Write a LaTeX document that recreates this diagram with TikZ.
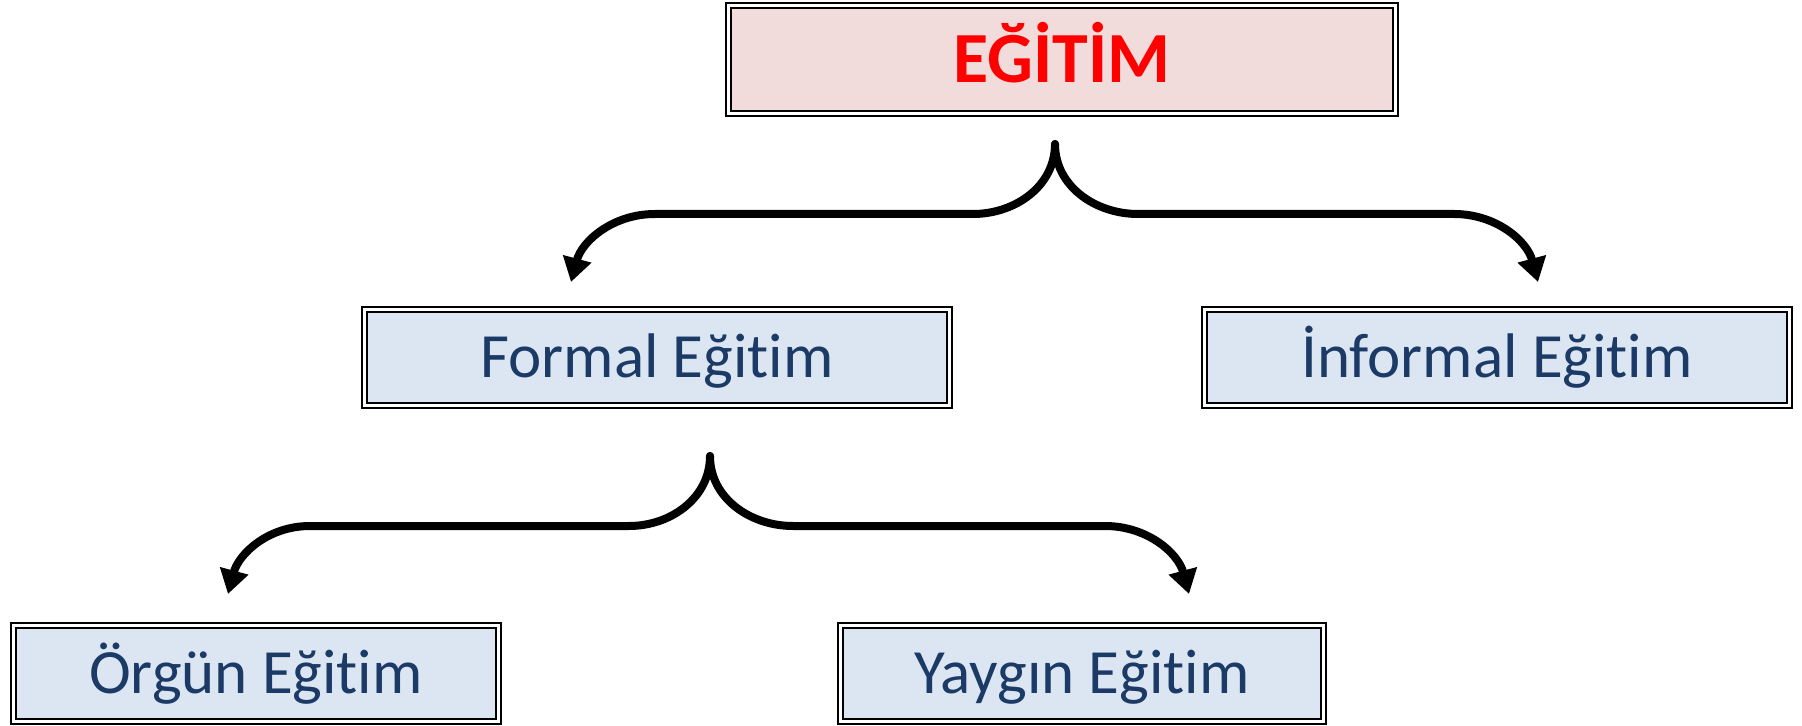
\documentclass[tikz,border=0pt]{standalone}
\usepackage{fontspec}
\setmainfont{Carlito}[Ligatures=NoCommon]
\usetikzlibrary{arrows.meta}
\definecolor{titlered}{HTML}{FF0000}
\definecolor{pinkfill}{HTML}{F2DCDB}
\definecolor{bluefill}{HTML}{DCE6F2}
\definecolor{navytext}{HTML}{1B3A66}
\begin{document}
\begin{tikzpicture}[x=0.5pt,y=-0.5pt,
  dbox/.style={draw=black, double=white, line width=1pt, double distance=1.6pt, rectangle, inner sep=0pt, text depth=0pt, align=center},
  topbox/.style={dbox, fill=pinkfill, minimum width=333.4pt, minimum height=53.9pt, font=\fontsize{36}{40}\selectfont\bfseries, text=titlered, text height=23.2pt},
  subbox/.style={dbox, fill=bluefill, minimum height=47.9pt, font=\fontsize{31.5}{36}\selectfont, text=navytext, text height=20.3pt},
  conn/.style={line width=4pt, line cap=round, -{Triangle[width=14pt,length=12pt]}}
]
\useasboundingbox (0,0) rectangle (1802,726);

\node[topbox] (egitim) at (1062,59.5) {EĞİTİM};
\node[subbox, minimum width=292.4pt] (formal) at (657,357.5) {Formal Eğitim};
\node[subbox, minimum width=292.4pt] (informal) at (1497,357.5) {İnformal Eğitim};
\node[subbox, minimum width=242.4pt] (orgun) at (256,673.5) {Örgün Eğitim};
\node[subbox, minimum width=241.4pt] (yaygin) at (1082,673.5) {Yaygın Eğitim};

% upper brace connector
\coordinate (up) at (1055,144);
\coordinate (upL) at (973,214);
\coordinate (upLL) at (655,214);
\coordinate (tipF) at (571,282);
\coordinate (upR) at (1138,214);
\coordinate (upRR) at (1454,214);
\coordinate (tipI) at (1538,282);
\draw[conn] (up) to[out=-90,in=0] (upL) -- (upLL) to[out=180,in=75] (tipF);
\draw[conn] (up) to[out=-90,in=180] (upR) -- (upRR) to[out=0,in=105] (tipI);

% lower brace connector
\coordinate (lo) at (710,456);
\coordinate (loL) at (629,526);
\coordinate (loLL) at (310,526);
\coordinate (tipO) at (228,594);
\coordinate (loR) at (793,526);
\coordinate (loRR) at (1105,526);
\coordinate (tipY) at (1189,594);
\draw[conn] (lo) to[out=-90,in=0] (loL) -- (loLL) to[out=180,in=75] (tipO);
\draw[conn] (lo) to[out=-90,in=180] (loR) -- (loRR) to[out=0,in=105] (tipY);
\end{tikzpicture}
\end{document}
